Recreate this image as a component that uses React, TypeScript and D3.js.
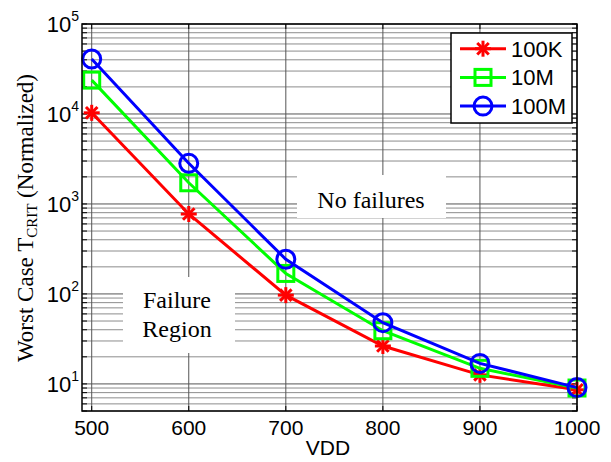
import React from "react";
import * as d3 from "d3";

// Supply voltage sweep (mV) and normalized worst-case critical time per run length
const vdd = [500, 600, 700, 800, 900, 1000];
const t100K = [10300, 773, 97, 26.4, 12.6, 8.6];
const t10M = [23800, 1720, 169, 39, 14.9, 9.0];
const t100M = [40800, 2830, 243, 47.9, 16.9, 9.1];

const seriesNames = ["100K", "10M", "100M"];
const seriesColors = ["#ff0000", "#00ff00", "#0000ff"];
const seriesMarkers = ["asterisk", "square", "circle"];
const xTicks = [500, 600, 700, 800, 900, 1000];
const yDecades = [1, 2, 3, 4, 5];

const W = 611;
const H = 462;
const M = { left: 82, right: 577, top: 24, bottom: 411 };

const sans = "'Liberation Sans', Arial, sans-serif";
const serif = "'Liberation Serif', 'Times New Roman', serif";

function Marker({ kind, x, y, color }: { kind: string; x: number; y: number; color: string }) {
  if (kind === "circle") {
    return <circle cx={x} cy={y} r={9} fill="none" stroke={color} strokeWidth={3} />;
  }
  if (kind === "square") {
    return <rect x={x - 8} y={y - 8} width={16} height={16} fill="none" stroke={color} strokeWidth={3} />;
  }
  const s = 8;
  const d = s * 0.72;
  return (
    <g stroke={color} strokeWidth={3} strokeLinecap="butt">
      <line x1={x - s} y1={y} x2={x + s} y2={y} />
      <line x1={x} y1={y - s} x2={x} y2={y + s} />
      <line x1={x - d} y1={y - d} x2={x + d} y2={y + d} />
      <line x1={x - d} y1={y + d} x2={x + d} y2={y - d} />
    </g>
  );
}

export default function App() {
  const x = d3.scaleLinear().domain([490, 1000]).range([M.left, M.right]);
  const y = d3.scaleLog().domain([5, 1e5]).range([M.bottom, M.top]);

  const majorY = yDecades.map((e) => Math.pow(10, e));
  const minorY: number[] = [];
  for (let e = 0; e <= 4; e++) {
    for (let m = 2; m <= 9; m++) {
      const v = m * Math.pow(10, e);
      if (v >= 5 && v <= 1e5) minorY.push(v);
    }
  }

  const line = d3
    .line<[number, number]>()
    .x((d) => x(d[0]))
    .y((d) => y(d[1]));

  const allSeries = [t100K, t10M, t100M];

  return (
    <svg width={W} height={H} style={{ position: "absolute", left: 0, top: 0, background: "#fff" }}>
      <rect x={0} y={0} width={W} height={H} fill="#fff" />

      {/* grid */}
      <g>
        {minorY.map((v) => (
          <line key={"mn" + v} x1={M.left} x2={M.right} y1={y(v)} y2={y(v)} stroke="#8c8c8c" strokeWidth={1} />
        ))}
        {majorY.map((v) => (
          <line key={"mj" + v} x1={M.left} x2={M.right} y1={y(v)} y2={y(v)} stroke="#555" strokeWidth={1} />
        ))}
        {xTicks.map((t) => (
          <line key={"vx" + t} x1={x(t)} x2={x(t)} y1={M.top} y2={M.bottom} stroke="#555" strokeWidth={1} />
        ))}
      </g>

      {/* annotation boxes */}
      <rect x={297} y={175} width={149} height={43} fill="#fff" />
      <text x={371} y={208} fontFamily={serif} fontSize={24} textAnchor="middle" fill="#000">
        No failures
      </text>
      <rect x={123} y={277} width={112} height={76} fill="#fff" />
      <text x={177} y={308} fontFamily={serif} fontSize={24} textAnchor="middle" fill="#000">
        Failure
      </text>
      <text x={177} y={337} fontFamily={serif} fontSize={24} textAnchor="middle" fill="#000">
        Region
      </text>

      {/* ticks on all four sides */}
      <g stroke="#000" strokeWidth={1}>
        {xTicks.map((t) => (
          <g key={"xt" + t}>
            <line x1={x(t)} x2={x(t)} y1={M.bottom} y2={M.bottom - 5} />
            <line x1={x(t)} x2={x(t)} y1={M.top} y2={M.top + 5} />
          </g>
        ))}
        {majorY.concat(minorY).map((v) => (
          <g key={"yt" + v}>
            <line x1={M.left} x2={M.left + 5} y1={y(v)} y2={y(v)} />
            <line x1={M.right} x2={M.right - 5} y1={y(v)} y2={y(v)} />
          </g>
        ))}
      </g>

      {/* series */}
      {allSeries.map((vals, i) => {
        const pts = vdd.map((v, j) => [v, vals[j]] as [number, number]);
        return (
          <g key={seriesNames[i]}>
            <path d={line(pts) || ""} fill="none" stroke={seriesColors[i]} strokeWidth={3} />
            {pts.map((p, j) => (
              <Marker key={j} kind={seriesMarkers[i]} x={x(p[0])} y={y(p[1])} color={seriesColors[i]} />
            ))}
          </g>
        );
      })}

      {/* frame */}
      <rect
        x={M.left}
        y={M.top}
        width={M.right - M.left}
        height={M.bottom - M.top}
        fill="none"
        stroke="#000"
        strokeWidth={1.5}
      />

      {/* x tick labels */}
      {xTicks.map((t) => (
        <text key={"xl" + t} x={x(t)} y={435} fontFamily={sans} fontSize={21} textAnchor="middle" fill="#000">
          {t}
        </text>
      ))}

      {/* y tick labels */}
      {yDecades.map((e) => (
        <text key={"yl" + e} x={79} y={y(Math.pow(10, e)) + 8} fontFamily={sans} fontSize={22} textAnchor="end" fill="#000">
          10
          <tspan fontSize={14} dy={-11}>
            {e}
          </tspan>
        </text>
      ))}

      {/* axis titles */}
      <text x={328} y={455} fontFamily={sans} fontSize={21} textAnchor="middle" fill="#000">
        VDD
      </text>
      <text transform="translate(33,218) rotate(-90)" fontFamily={serif} fontSize={23} textAnchor="middle" fill="#000">
        Worst Case T
        <tspan fontSize={15} dy={4}>
          CRIT
        </tspan>
        <tspan dy={-4}> (Normalized)</tspan>
      </text>

      {/* legend */}
      <g>
        <rect x={451} y={33} width={121} height={90} fill="#fff" stroke="#000" strokeWidth={1.5} />
        {seriesNames.map((name, i) => {
          const ly = 48.7 + i * 28.7;
          return (
            <g key={"lg" + name}>
              <line x1={460} x2={506} y1={ly} y2={ly} stroke={seriesColors[i]} strokeWidth={3} />
              <Marker kind={seriesMarkers[i]} x={483} y={ly} color={seriesColors[i]} />
              <text x={511} y={ly + 8} fontFamily={sans} fontSize={22} fill="#000">
                {name}
              </text>
            </g>
          );
        })}
      </g>
    </svg>
  );
}
